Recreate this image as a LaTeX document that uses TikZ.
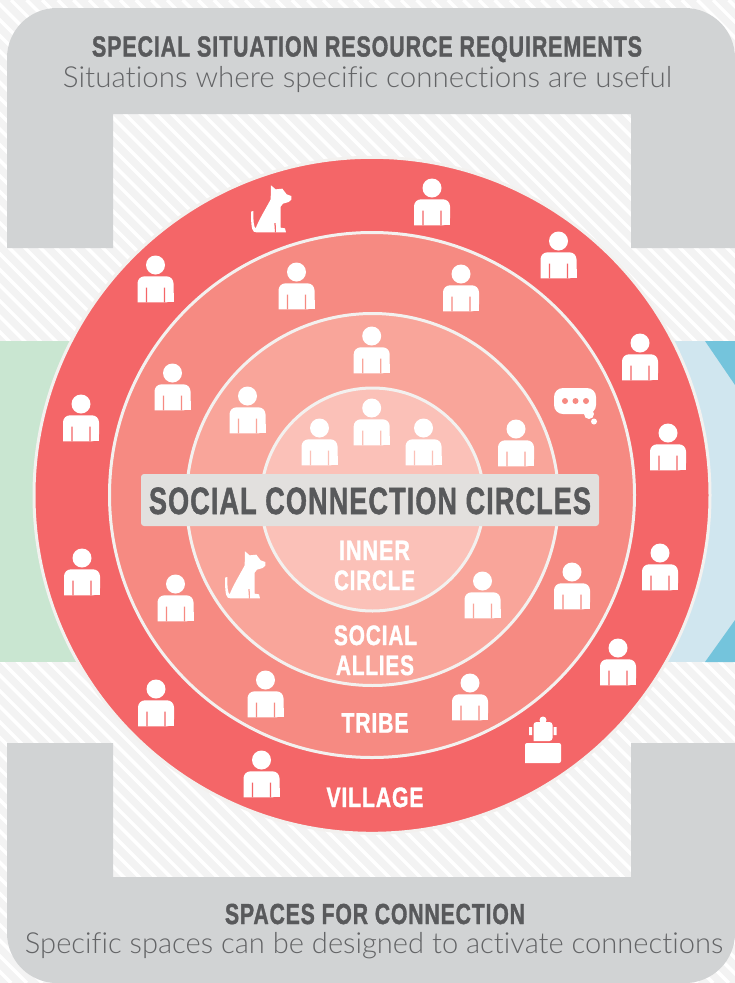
\documentclass[tikz,border=0pt]{standalone}
\usepackage{graphicx}
\usepackage{fontspec}
\setmainfont{Liberation Sans}
\newfontfamily\lightf[UprightFont=* Light,RawFeature={-liga;-clig;-dlig}]{Lato}
\newfontfamily\headf[UprightFont=* Bold,FakeBold=1.5,LetterSpace=4]{Liberation Sans}
\newcommand{\fitw}[2]{\resizebox{#1}{\height}{#2}}
\definecolor{ringa}{HTML}{F46668}
\definecolor{ringb}{HTML}{F68A82}
\definecolor{ringc}{HTML}{F9A59A}
\definecolor{ringd}{HTML}{FBC1B8}
\definecolor{ringline}{HTML}{F3F1EF}
\definecolor{panel}{HTML}{D1D3D4}
\definecolor{inktext}{HTML}{58595B}
\definecolor{thintext}{HTML}{636466}
\definecolor{paleg}{HTML}{C9E6D1}
\definecolor{paleb}{HTML}{D0E6EF}
\definecolor{darkb}{HTML}{74C4DC}
\definecolor{bgstripe}{HTML}{F3F3F3}
\definecolor{barfill}{HTML}{E2E0DE}
\tikzset{
  person/.pic={
    \fill[white] (0,0) circle[radius=9.5pt];
    \fill[white,rounded corners=7pt] (-18,37.3) -- (-18,11.3) -- (18,11.3) -- (18,37.3) [sharp corners] -- cycle;
    \fill[white] (-18,37.3) rectangle (18,28);
    \fill[pic actions] (-9.6,37.4) rectangle (-8.4,22.5) (8.4,37.4) rectangle (9.6,22.5);
  },
  dog/.pic={
    \fill[white,line join=round] (136,63) -- (150,75) -- (170,73) -- (183,90) -- (197,95) -- (197,106) -- (189,113) -- (172,118) -- (165,127) -- (165,190) -- (178,192) -- (181,204) -- (92,204) .. controls (80,204) and (76,196) .. (76,142) -- (83,140) .. controls (83,170) and (84,188) .. (90,192) .. controls (100,165) and (125,125) .. (135,105) -- cycle;
    \fill[pic actions] (146,176) -- (150,176) -- (151,204.5) -- (148,204.5) -- cycle;
  },
  titlefont/.style={font=\fontsize{29}{29}\selectfont\headf,text=inktext,inner sep=0pt,anchor=base},
  subfont/.style={font=\fontsize{29}{29}\selectfont\lightf,text=thintext,inner sep=0pt,anchor=base},
  ringfont/.style={font=\fontsize{28}{28}\selectfont\headf,text=white,inner sep=0pt,anchor=base},
  ringshape/.style={draw=ringline,line width=3pt},
}
\begin{document}
\begin{tikzpicture}[x=1pt,y=-1pt]
\useasboundingbox (0,0) rectangle (735,983);
% background
\begin{scope}
\clip (0,0) rectangle (735,983);
\fill[bgstripe] (0,0) rectangle (735,983);
\foreach \k in {-65,...,48}{
  \draw[white,line width=3.5pt] ({11+15.6*\k},0) -- ({11+15.6*\k+983},983);
}
% side panels
\fill[paleg] (0,341) rectangle (200,662);
\fill[paleb] (540,341) rectangle (735,662);
\fill[darkb] (705,341) -- (735,341) -- (735,385) -- cycle;
\fill[darkb] (705,662) -- (735,662) -- (735,620) -- cycle;
% grey frames
\fill[panel] (7,248) -- (7,58) arc[start angle=180,end angle=90,radius=50pt] -- (685,8) arc[start angle=90,end angle=0,radius=50pt] -- (735,248) -- (631,248) -- (631,114) -- (113,114) -- (113,248) -- cycle;
\fill[panel] (7,743) -- (7,933) arc[start angle=180,end angle=270,radius=50pt] -- (685,983) arc[start angle=270,end angle=360,radius=50pt] -- (735,743) -- (631,743) -- (631,877) -- (113,877) -- (113,743) -- cycle;
\end{scope}
% circles
\path[ringshape,fill=ringa] (372,495.3) circle[radius=338pt];
\path[ringshape,fill=ringb] (372,495) circle[radius=262.5pt];
\path[ringshape,fill=ringc] (372.5,499.5) circle[radius=186pt];
\path[ringshape,fill=ringd] (372.5,499.5) circle[radius=111.5pt];
% people, village
\foreach \px/\py in {432/188,558.5/241,640/343,668/433,660/553,618/648,81/404,82/558,155.5/265,156/689,261.5/760}{
  \pic[fill=ringa] at (\px,\py) {person};
}
% people, tribe
\foreach \px/\py in {296.5/272,461/274,172.5/373,175.5/584,265.5/680,470/683,572/572}{
  \pic[fill=ringb] at (\px,\py) {person};
}
% people, social allies
\foreach \px/\py in {371.7/336,247.5/396,516/429,482.5/581}{
  \pic[fill=ringc] at (\px,\py) {person};
}
% people, inner circle
\foreach \px/\py in {319.5/428,371.7/408,423.5/428}{
  \pic[fill=ringd] at (\px,\py) {person};
}
% dogs
\begin{scope}[shift={(225,551)},x=0.3333pt,y=-0.3333pt,shift={(-76,-62)}]
\pic[fill=ringc] {dog};
\end{scope}
\begin{scope}[shift={(251,185)},x=0.3333pt,y=-0.3333pt,shift={(-76,-62)}]
\pic[fill=ringa] {dog};
\end{scope}
% speech bubble
\fill[white,rounded corners=9pt] (554,388) rectangle (596,414);
\fill[white] (589,414) circle[radius=5pt] (594,421.5) circle[radius=3pt];
\fill[ringb] (565,401) circle[radius=3pt] (575.5,401) circle[radius=3pt] (586,401) circle[radius=3pt];
% desk figure
\fill[white,rounded corners=2pt] (525,763) -- (525,743) -- (561,743) -- (561,763) [sharp corners] -- cycle;
\fill[white,rounded corners=3pt] (533.5,741) -- (533.5,722) -- (552.5,722) -- (552.5,741) [sharp corners] -- cycle;
\fill[white] (543,720) circle[radius=3.5pt];
\fill[white] (529,727) rectangle (532,735) (553.7,727) rectangle (556.7,735);
% labels
\node[titlefont] (t1) at (367,56.5) {\fitw{550pt}{SPECIAL SITUATION RESOURCE REQUIREMENTS}};
\node[subfont] (s1) at (367.5,87) {\fitw{609pt}{Situations where specific connections are useful}};
\node[titlefont] (t2) at (375,924) {\fitw{300pt}{SPACES FOR CONNECTION}};
\node[subfont] (s2) at (374,953) {\fitw{698pt}{Specific spaces can be designed to activate connections}};
\node[fill=barfill,rounded corners=3pt,minimum width=458pt,minimum height=52pt,inner sep=0pt] (bar) at (370,500) {};
\node[font=\fontsize{38}{38}\selectfont\headf,text=inktext,inner sep=0pt,anchor=base] (main) at (370,514) {\fitw{442pt}{SOCIAL CONNECTION CIRCLES}};
\node[ringfont] (l1) at (374.5,560) {\fitw{71pt}{INNER}};
\node[ringfont] (l2) at (374.5,590) {\fitw{81pt}{CIRCLE}};
\node[ringfont] (l3) at (375.5,645) {\fitw{83pt}{SOCIAL}};
\node[ringfont] (l4) at (375,675) {\fitw{78pt}{ALLIES}};
\node[ringfont] (l5) at (375,732.5) {\fitw{67pt}{TRIBE}};
\node[ringfont] (l6) at (375,807) {\fitw{97pt}{VILLAGE}};
\end{tikzpicture}
\end{document}
